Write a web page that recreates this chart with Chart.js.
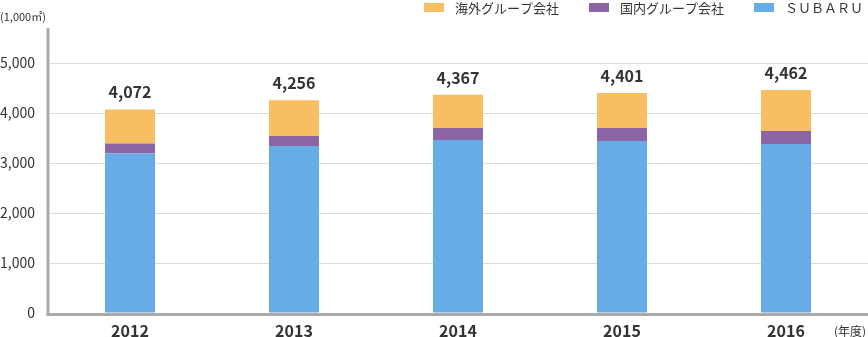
<!DOCTYPE html>
<html lang="ja">
<head>
<meta charset="utf-8">
<title>延床面積の推移</title>
<script src="https://cdn.jsdelivr.net/npm/chart.js@4"></script>
<style>
  html, body { margin: 0; padding: 0; background: #fff; }
  #wrap { position: relative; width: 868px; height: 337px; }
</style>
</head>
<body>
<div id="wrap"><canvas id="c"></canvas></div>
<script>
// Fiscal years
const years = ['2012', '2013', '2014', '2015', '2016'];
// Floor area by group, unit: 1,000 m²
const subaru   = [3190, 3340, 3460, 3440, 3380];
const domestic = [200, 200, 240, 260, 260];
const overseas = [682, 716, 667, 701, 822];
// Stated totals above each bar
const totals = [4072, 4256, 4367, 4401, 4462];
// Y-axis tick values
const yTicks = [0, 1000, 2000, 3000, 4000, 5000];

const seriesNames = ['ＳＵＢＡＲＵ', '国内グループ会社', '海外グループ会社'];
const seriesColors = ['#66ACE6', '#8C65A4', '#F8BF62'];

const FONT = '"Noto Sans CJK JP", "Noto Sans", sans-serif';
const TEXT = '#333333';
const AXIS = '#AAAAAA';

const fmt = v => v.toLocaleString('en-US');

// Axis lines, totals, legend and unit captions
const decorations = {
  id: 'decorations',
  afterDatasetsDraw(chart) {
    const { ctx, chartArea: a, scales } = chart;
    ctx.save();

    // axis lines
    ctx.fillStyle = AXIS;
    ctx.fillRect(a.left - 1.5, a.bottom, a.right - a.left + 1.5, 3);
    ctx.fillRect(a.left - 1.5, a.top, 3, a.bottom - a.top + 3);

    // totals above the stacks
    ctx.fillStyle = TEXT;
    ctx.font = 'bold 16px ' + FONT;
    ctx.textAlign = 'center';
    ctx.textBaseline = 'middle';
    totals.forEach((t, i) => {
      const x = scales.x.getPixelForValue(i);
      const y = scales.y.getPixelForValue(t);
      ctx.fillText(fmt(t), x, y - 17);
    });

    // unit captions
    ctx.font = '11px ' + FONT;
    ctx.textAlign = 'left';
    ctx.fillText('(1,000㎡)', 0, 17);
    ctx.font = '12px ' + FONT;
    ctx.textAlign = 'right';
    ctx.fillText('(年度)', 866, 331);

    // legend, laid out right to left
    ctx.font = '13px ' + FONT;
    ctx.textAlign = 'left';
    let end = 863;
    chart.data.datasets.forEach(ds => {
      const w = ctx.measureText(ds.label).width;
      const tx = end - w;
      const sx = tx - 11 - 20;
      ctx.fillStyle = ds.backgroundColor;
      ctx.fillRect(sx, 3, 20, 9);
      ctx.fillStyle = TEXT;
      ctx.fillText(ds.label, tx, 8);
      end = sx - 30;
    });

    ctx.restore();
  }
};

new Chart(document.getElementById('c'), {
  type: 'bar',
  data: {
    labels: years,
    datasets: [
      { label: seriesNames[0], data: subaru,   backgroundColor: seriesColors[0] },
      { label: seriesNames[1], data: domestic, backgroundColor: seriesColors[1] },
      { label: seriesNames[2], data: overseas, backgroundColor: seriesColors[2] }
    ]
  },
  options: {
    responsive: true,
    maintainAspectRatio: false,
    animation: false,
    layout: { padding: { top: 28, left: 0, right: 0, bottom: 0 } },
    datasets: { bar: { barPercentage: 50 / 164, categoryPercentage: 1, borderWidth: 0 } },
    plugins: { legend: { display: false }, tooltip: { enabled: false } },
    scales: {
      x: {
        stacked: true,
        grid: { display: false, drawTicks: false },
        border: { display: false },
        ticks: { color: TEXT, font: { family: FONT, size: 16, weight: 'bold' }, padding: 8 },
        afterFit(s) { s.height = 24; }
      },
      y: {
        stacked: true,
        min: 0,
        max: 5700,
        afterBuildTicks(s) { s.ticks = yTicks.map(v => ({ value: v })); },
        grid: {
          color: c => (c.tick && c.tick.value === 0 ? 'rgba(0,0,0,0)' : '#DDDDDD'),
          lineWidth: 1,
          drawTicks: false
        },
        border: { display: false },
        ticks: { color: TEXT, font: { family: FONT, size: 14 }, padding: 13, callback: v => fmt(v) },
        afterFit(s) { s.width = 48; }
      }
    }
  },
  plugins: [decorations]
});
</script>
</body>
</html>
